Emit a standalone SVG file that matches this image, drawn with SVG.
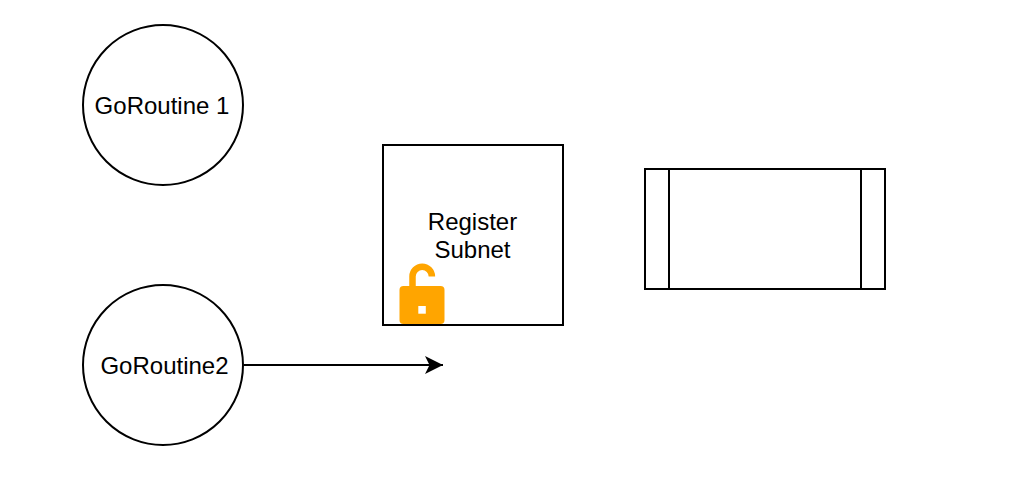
<svg xmlns="http://www.w3.org/2000/svg" width="1016" height="492" viewBox="0 0 1016 492">
<style>
.s{fill:#fff;stroke:#000;stroke-width:2}
.t{font-family:"Liberation Sans",Arial,sans-serif;font-size:24px;fill:#000;text-anchor:middle}
</style>
<defs><marker id="a" markerUnits="userSpaceOnUse" markerWidth="20" markerHeight="20" refX="18" refY="9" orient="auto"><path d="M0 0L18 9L0 18L4.5 9Z" fill="#000"/></marker></defs>
<rect width="1016" height="492" fill="#fff"/>
<g id="g1"><circle class="s" cx="163" cy="105" r="80"/><text class="t" x="162" y="114">GoRoutine 1</text></g>
<g id="g2"><circle class="s" cx="163" cy="365" r="80"/><text class="t" x="164.500" y="374">GoRoutine2</text></g>
<g id="reg"><rect class="s" x="383" y="145" width="180" height="180"/><text class="t" x="472.500" y="230">Register</text><text class="t" x="472.500" y="258">Subnet</text></g>
<g id="lock"><rect x="399.500" y="286" width="45" height="38" rx="4" fill="#ffa500"/><path d="M412.500 287V276.500a9.700 9.700 0 0 1 19.400 0" fill="none" stroke="#ffa500" stroke-width="6.500"/><rect x="418.300" y="306" width="7.500" height="7.700" fill="#fff"/></g>
<g id="proc"><rect class="s" x="645" y="169" width="240" height="120"/><path class="s" d="M669 169V289M861 169V289"/></g>
<g id="connectors"><path d="M244 365H443" stroke="#000" stroke-width="2" fill="none" marker-end="url(#a)"/></g>
</svg>
